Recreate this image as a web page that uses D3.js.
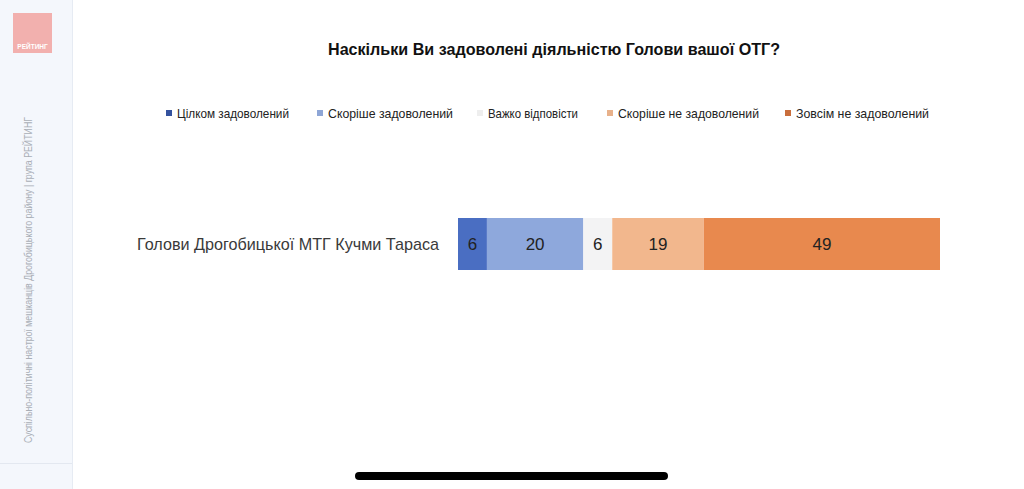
<!DOCTYPE html>
<html>
<head>
<meta charset="utf-8">
<script src="https://cdn.jsdelivr.net/npm/d3@7"></script>
<style>
  body { margin: 0; background: #fff; }
  svg { display: block; font-family: "Liberation Sans", Arial, sans-serif; }
</style>
</head>
<body>
<div id="chart"></div>
<script>
// data
let title = "Наскільки Ви задоволені діяльністю Голови вашої ОТГ?";
let categories = ["Голови Дрогобицької МТГ Кучми Тараса"];
let seriesNames = ["Цілком задоволений", "Скоріше задоволений", "Важко відповісти",
    "Скоріше не задоволений", "Зовсім не задоволений"];
let values = [[6, 20, 6, 19, 49]];
let sideNote = "Суспільно-політичні настрої мешканців Дрогобицького району | група РЕЙТИНГ";

let colors = ["#4a6ec2", "#8ea8dc", "#f3f3f4", "#f2b78d", "#e8894e"];
let legendColors = ["#34529e", "#8ea6d6", "#eeeeee", "#e8b18a", "#c96e3c"];

let W = 1024, H = 489;

let svg = d3.select("#chart").append("svg")
    .attr("width", W)
    .attr("height", H);

// left sidebar
svg.append("rect")
    .attr("x", 0).attr("y", 0)
    .attr("width", 72).attr("height", H)
    .attr("fill", "#f4f7fc");
svg.append("line")
    .attr("x1", 72.5).attr("x2", 72.5)
    .attr("y1", 0).attr("y2", H)
    .attr("stroke", "#e6ebf3");
svg.append("line")
    .attr("x1", 0).attr("x2", 72)
    .attr("y1", 463.5).attr("y2", 463.5)
    .attr("stroke", "#e3e8f0");

// logo
svg.append("rect")
    .attr("x", 13).attr("y", 13)
    .attr("width", 39).attr("height", 40)
    .attr("fill", "#f2b0ae");
svg.append("text")
    .attr("x", 32.5).attr("y", 49)
    .attr("text-anchor", "middle")
    .attr("fill", "#fff")
    .style("font-size", "6.5px")
    .style("font-weight", "bold")
    .text("РЕЙТИНГ");

svg.append("text")
    .attr("transform", "translate(32,280) rotate(-90)")
    .attr("text-anchor", "middle")
    .attr("fill", "#a9aeb6")
    .attr("textLength", 326)
    .attr("lengthAdjust", "spacingAndGlyphs")
    .style("font-size", "10px")
    .text(sideNote);

// title
svg.append("text")
    .attr("x", 554).attr("y", 55)
    .attr("text-anchor", "middle")
    .attr("fill", "#111")
    .attr("textLength", 452)
    .attr("lengthAdjust", "spacingAndGlyphs")
    .style("font-size", "17px")
    .style("font-weight", "bold")
    .text(title);

// legend
let legendX = [166, 317, 477, 607, 785];
let legendW = [112, 125, 90, 141, 133];
let legend = svg.append("g").selectAll("g")
    .data(seriesNames)
    .enter()
    .append("g")
    .attr("transform", function (d, i) {
        return "translate(" + legendX[i] + ",110)";
    });
legend.append("rect")
    .attr("width", 6).attr("height", 6)
    .attr("fill", function (d, i) { return legendColors[i]; });
legend.append("text")
    .attr("x", 11).attr("y", 7.5)
    .attr("fill", "#222")
    .attr("textLength", function (d, i) { return legendW[i]; })
    .attr("lengthAdjust", "spacingAndGlyphs")
    .style("font-size", "13px")
    .text(function (d) { return d; });

// scales
let x = d3.scaleLinear()
    .domain([0, 100])
    .range([458, 940]);

let y = d3.scaleBand()
    .domain(categories)
    .range([218, 270])
    .padding(0);

// stacked data
let rows = categories.map(function (c, ci) {
    let row = {cat: c};
    seriesNames.forEach(function (s, si) { row[s] = values[ci][si]; });
    return row;
});
let stacked = d3.stack().keys(seriesNames)(rows);

let layers = svg.append("g").selectAll("g")
    .data(stacked)
    .enter()
    .append("g")
    .attr("fill", function (d, i) { return colors[i]; });

layers.selectAll("rect")
    .data(function (d) { return d; })
    .enter()
    .append("rect")
    .attr("x", function (d) { return x(d[0]); })
    .attr("width", function (d) { return x(d[1]) - x(d[0]); })
    .attr("y", function (d) { return y(d.data.cat); })
    .attr("height", y.bandwidth());

layers.selectAll("text")
    .data(function (d) { return d; })
    .enter()
    .append("text")
    .attr("x", function (d) { return (x(d[0]) + x(d[1])) / 2; })
    .attr("y", function (d) { return y(d.data.cat) + y.bandwidth() / 2; })
    .attr("dy", "0.36em")
    .attr("text-anchor", "middle")
    .attr("fill", "#222")
    .style("font-size", "17px")
    .text(function (d) { return d[1] - d[0]; });

// category labels
svg.append("g").selectAll("text")
    .data(categories)
    .enter()
    .append("text")
    .attr("x", 439)
    .attr("y", function (d) { return y(d) + y.bandwidth() / 2; })
    .attr("dy", "0.36em")
    .attr("text-anchor", "end")
    .attr("fill", "#3a3a3a")
    .attr("textLength", 302)
    .attr("lengthAdjust", "spacingAndGlyphs")
    .style("font-size", "17px")
    .text(function (d) { return d; });

// home indicator
svg.append("rect")
    .attr("x", 355).attr("y", 472)
    .attr("width", 313).attr("height", 8)
    .attr("rx", 4)
    .attr("fill", "#000");
</script>
</body>
</html>
